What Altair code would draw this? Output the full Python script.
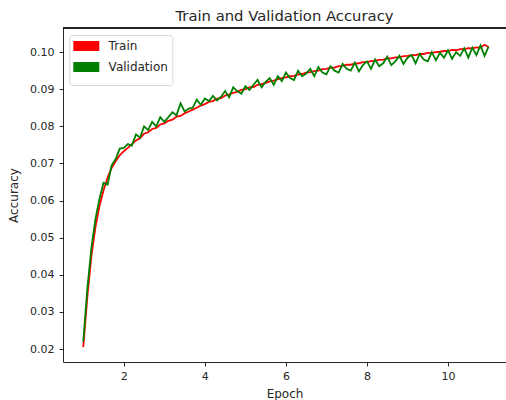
import altair as alt
import pandas as pd

epochs = [round(1 + i / 10, 1) for i in range(101)]

train_acc = [
    0.0205, 0.0340, 0.0450, 0.0528, 0.0585, 0.0628, 0.0662, 0.0688, 0.0706, 0.0722,
    0.0733, 0.0742, 0.0752, 0.0762, 0.0768, 0.0780, 0.0784, 0.0793, 0.0796, 0.0805,
    0.0808, 0.0815, 0.0818, 0.0826, 0.0828, 0.0835, 0.0840, 0.0845, 0.0850, 0.0856,
    0.0860, 0.0866, 0.0868, 0.0875, 0.0876, 0.0883, 0.0886, 0.0890, 0.0893, 0.0898,
    0.0900, 0.0905, 0.0906, 0.0912, 0.0914, 0.0917, 0.0921, 0.0923, 0.0927, 0.0930,
    0.0932, 0.0935, 0.0936, 0.0940, 0.0941, 0.0945, 0.0946, 0.0949, 0.0950, 0.0954,
    0.0955, 0.0958, 0.0958, 0.0962, 0.0963, 0.0966, 0.0966, 0.0969, 0.0970, 0.0973,
    0.0973, 0.0976, 0.0977, 0.0979, 0.0980, 0.0983, 0.0983, 0.0986, 0.0986, 0.0989,
    0.0990, 0.0992, 0.0992, 0.0995, 0.0995, 0.0998, 0.0998, 0.1000, 0.1001, 0.1003,
    0.1003, 0.1006, 0.1005, 0.1008, 0.1008, 0.1011, 0.1010, 0.1013, 0.1012, 0.1020,
    0.1014,
]

val_acc = [
    0.0220, 0.0362, 0.0472, 0.0550, 0.0605, 0.0648, 0.0643, 0.0695, 0.0712, 0.0740,
    0.0742, 0.0752, 0.0748, 0.0778, 0.0770, 0.0800, 0.0790, 0.0812, 0.0800, 0.0825,
    0.0812, 0.0825, 0.0838, 0.0830, 0.0862, 0.0840, 0.0848, 0.0850, 0.0872, 0.0858,
    0.0875, 0.0868, 0.0882, 0.0870, 0.0880, 0.0895, 0.0878, 0.0905, 0.0895, 0.0888,
    0.0908, 0.0898, 0.0912, 0.0925, 0.0905, 0.0920, 0.0930, 0.0912, 0.0935, 0.0922,
    0.0945, 0.0930, 0.0925, 0.0950, 0.0935, 0.0942, 0.0955, 0.0935, 0.0960, 0.0945,
    0.0940, 0.0962, 0.0950, 0.0945, 0.0968, 0.0955, 0.0950, 0.0972, 0.0948, 0.0965,
    0.0975, 0.0955, 0.0980, 0.0962, 0.0970, 0.0988, 0.0965, 0.0975, 0.0990, 0.0968,
    0.0985, 0.0992, 0.0970, 0.0995, 0.0980, 0.0975, 0.1000, 0.0978, 0.0998, 0.0985,
    0.1005, 0.0982, 0.1000, 0.0990, 0.1010, 0.0985, 0.1012, 0.0992, 0.1018, 0.0990,
    0.1015,
]

series_names = ["Train", "Validation"]
series_colors = ["#ff0000", "#008000"]
x_ticks = [2, 4, 6, 8, 10]
y_ticks = [0.02, 0.03, 0.04, 0.05, 0.06, 0.07, 0.08, 0.09, 0.10]

df = pd.DataFrame({
    "Epoch": epochs * 2,
    "Accuracy": train_acc + val_acc,
    "Series": [series_names[0]] * len(epochs) + [series_names[1]] * len(epochs),
})

W, H = 443, 334
FONT = "DejaVu Sans"
INK = "#262626"

# legend patch: outlined rectangle whose thick stroke fills it (26 x 10 px)
PATCH = "M-2.5,-0.5H2.5V0.5H-2.5Z"

lines = alt.Chart(df).mark_line(strokeWidth=1.8).encode(
    x=alt.X("Epoch:Q",
            scale=alt.Scale(domain=[0.5, 11.43], nice=False, zero=False),
            axis=alt.Axis(values=x_ticks, format="d", title="Epoch")),
    y=alt.Y("Accuracy:Q",
            scale=alt.Scale(domain=[0.0165, 0.1065], nice=False, zero=False),
            axis=alt.Axis(values=y_ticks, format=".2f", title="Accuracy")),
    color=alt.Color("Series:N",
                    scale=alt.Scale(domain=series_names, range=series_colors),
                    legend=alt.Legend(
                        title=None, orient="none", legendX=6.3, legendY=7,
                        fillColor="white", strokeColor="#d8d8d8", cornerRadius=3,
                        padding=4, rowPadding=-11.5, symbolType=PATCH,
                        symbolSize=64, symbolStrokeWidth=6, symbolOpacity=1,
                        symbolOffset=6, labelOffset=15.3, labelFontSize=12,
                        labelFont=FONT, labelColor=INK)),
    order=alt.Order("Epoch:Q"),
)

top_border = alt.Chart(df).mark_rule(color=INK, strokeWidth=1).encode(
    x=alt.value(0), x2=alt.value(W), y=alt.value(0)
)

chart = alt.layer(lines, top_border).properties(
    width=W, height=H,
    title=alt.TitleParams("Train and Validation Accuracy", font=FONT, fontSize=14.8,
                          fontWeight="normal", color=INK, offset=4),
    autosize=alt.AutoSizeParams(type="none"),
    padding={"left": 63, "top": 28, "right": 0, "bottom": 38},
).configure_view(stroke=None).configure_axis(
    domainColor=INK, domainWidth=1, tickColor=INK, tickSize=4,
    grid=False, labelFont=FONT, labelFontSize=11, labelColor=INK,
    titleFont=FONT, titleFontSize=12, titleFontWeight="normal", titleColor=INK,
).configure_axisX(labelPadding=4, titlePadding=7).configure_axisY(
    labelPadding=5, titlePadding=9)

chart.save("out.html", embed_options={"renderer": "svg", "actions": False})
